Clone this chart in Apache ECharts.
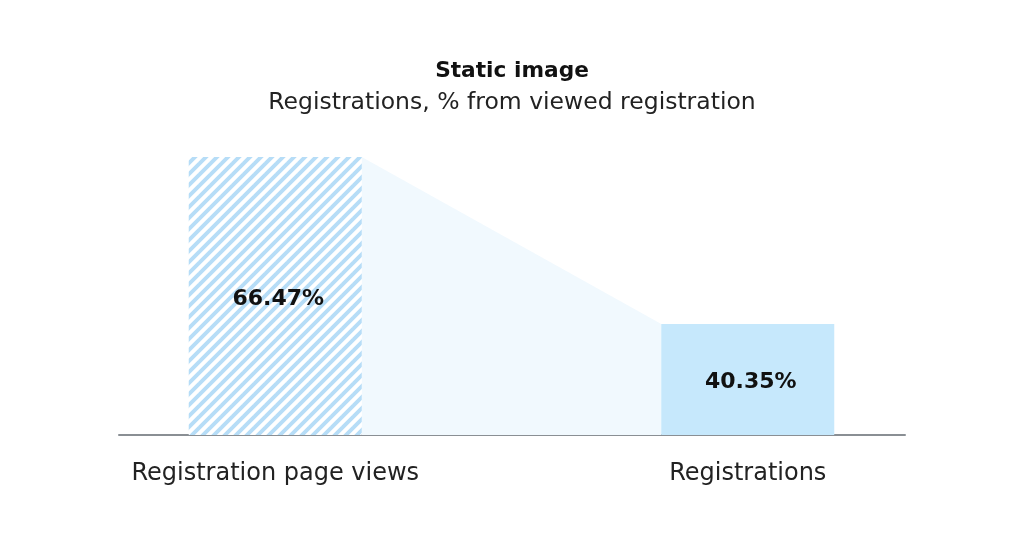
<!DOCTYPE html>
<html>
<head>
<meta charset="utf-8">
<script src="https://cdn.jsdelivr.net/npm/echarts@6/dist/echarts.min.js"></script>
<style>
html,body{margin:0;padding:0;background:#fff;}
#chart{width:1024px;height:544px;}
</style>
</head>
<body>
<div id="chart"></div>
<script>
const categories = ['Registration page views', 'Registrations'];
const values = [66.47, 40.35];
const titleText = 'Static image';
const subtitleText = 'Registrations, % from viewed registration';

const BAR_W = 173;
const Y_MIN = 23;
const FONT = '"DejaVu Sans", sans-serif';

function makeHatch() {
  const s = 11;
  const c = document.createElement('canvas');
  c.width = s; c.height = s;
  const ctx = c.getContext('2d');
  ctx.fillStyle = '#ffffff';
  ctx.fillRect(0, 0, s, s);
  ctx.strokeStyle = '#b6ddf7';
  ctx.lineWidth = 3.9;
  for (const o of [-s, 0, s]) {
    ctx.beginPath();
    ctx.moveTo(o - 2, s + 2);
    ctx.lineTo(o + s + 2, -2);
    ctx.stroke();
  }
  return c;
}
const hatch = makeHatch();

const chart = echarts.init(document.getElementById('chart'));
chart.setOption({
  backgroundColor: '#ffffff',
  animation: false,
  title: {
    text: titleText,
    subtext: subtitleText,
    left: 'center',
    top: 55,
    itemGap: 9,
    textStyle: { fontFamily: FONT, fontSize: 21.7, fontWeight: 'bold', color: '#111' },
    subtextStyle: { fontFamily: FONT, fontSize: 23.5, color: '#222' }
  },
  grid: [
    { left: 39, right: 40, top: 157, bottom: 109 },
    { left: 119, right: 119, top: 157, bottom: 109 }
  ],
  xAxis: [
    {
      type: 'category', gridIndex: 0, data: categories,
      axisLine: { show: false }, axisTick: { show: false },
      axisLabel: { margin: 27, fontFamily: FONT, fontSize: 24, color: '#222' }
    },
    {
      type: 'category', gridIndex: 1, data: categories,
      axisLine: { show: true, lineStyle: { color: '#8a8f94', width: 2 } },
      axisTick: { show: false }, axisLabel: { show: false }
    }
  ],
  yAxis: [
    { type: 'value', gridIndex: 0, min: Y_MIN, max: 'dataMax', show: false, splitLine: { show: false } },
    { type: 'value', gridIndex: 1, min: 0, max: 1, show: false, splitLine: { show: false } }
  ],
  series: [
    {
      type: 'custom',
      xAxisIndex: 0, yAxisIndex: 0,
      z: 1,
      data: [[0, values[0], 1, values[1]]],
      renderItem: function (params, api) {
        const p0 = api.coord([api.value(0), api.value(1)]);
        const p1 = api.coord([api.value(2), api.value(3)]);
        const b0 = api.coord([api.value(0), Y_MIN]);
        const b1 = api.coord([api.value(2), Y_MIN]);
        const h = BAR_W / 2;
        return {
          type: 'polygon',
          shape: { points: [[p0[0] + h, p0[1]], [p1[0] - h, p1[1]], [b1[0] - h, b1[1]], [b0[0] + h, b0[1]]] },
          style: { fill: '#f1f9fe' }
        };
      }
    },
    {
      type: 'bar',
      xAxisIndex: 0, yAxisIndex: 0,
      barWidth: BAR_W,
      z: 2,
      data: values.map((v, i) => ({
        value: v,
        itemStyle: { color: i === 0 ? { image: hatch, repeat: 'repeat' } : '#c6e8fc' }
      })),
      label: {
        show: true, position: 'inside', offset: [3, 3],
        formatter: p => p.value.toFixed(2) + '%',
        fontFamily: FONT, fontSize: 22, fontWeight: 'bold', color: '#111'
      }
    }
  ]
});
</script>
</body>
</html>
